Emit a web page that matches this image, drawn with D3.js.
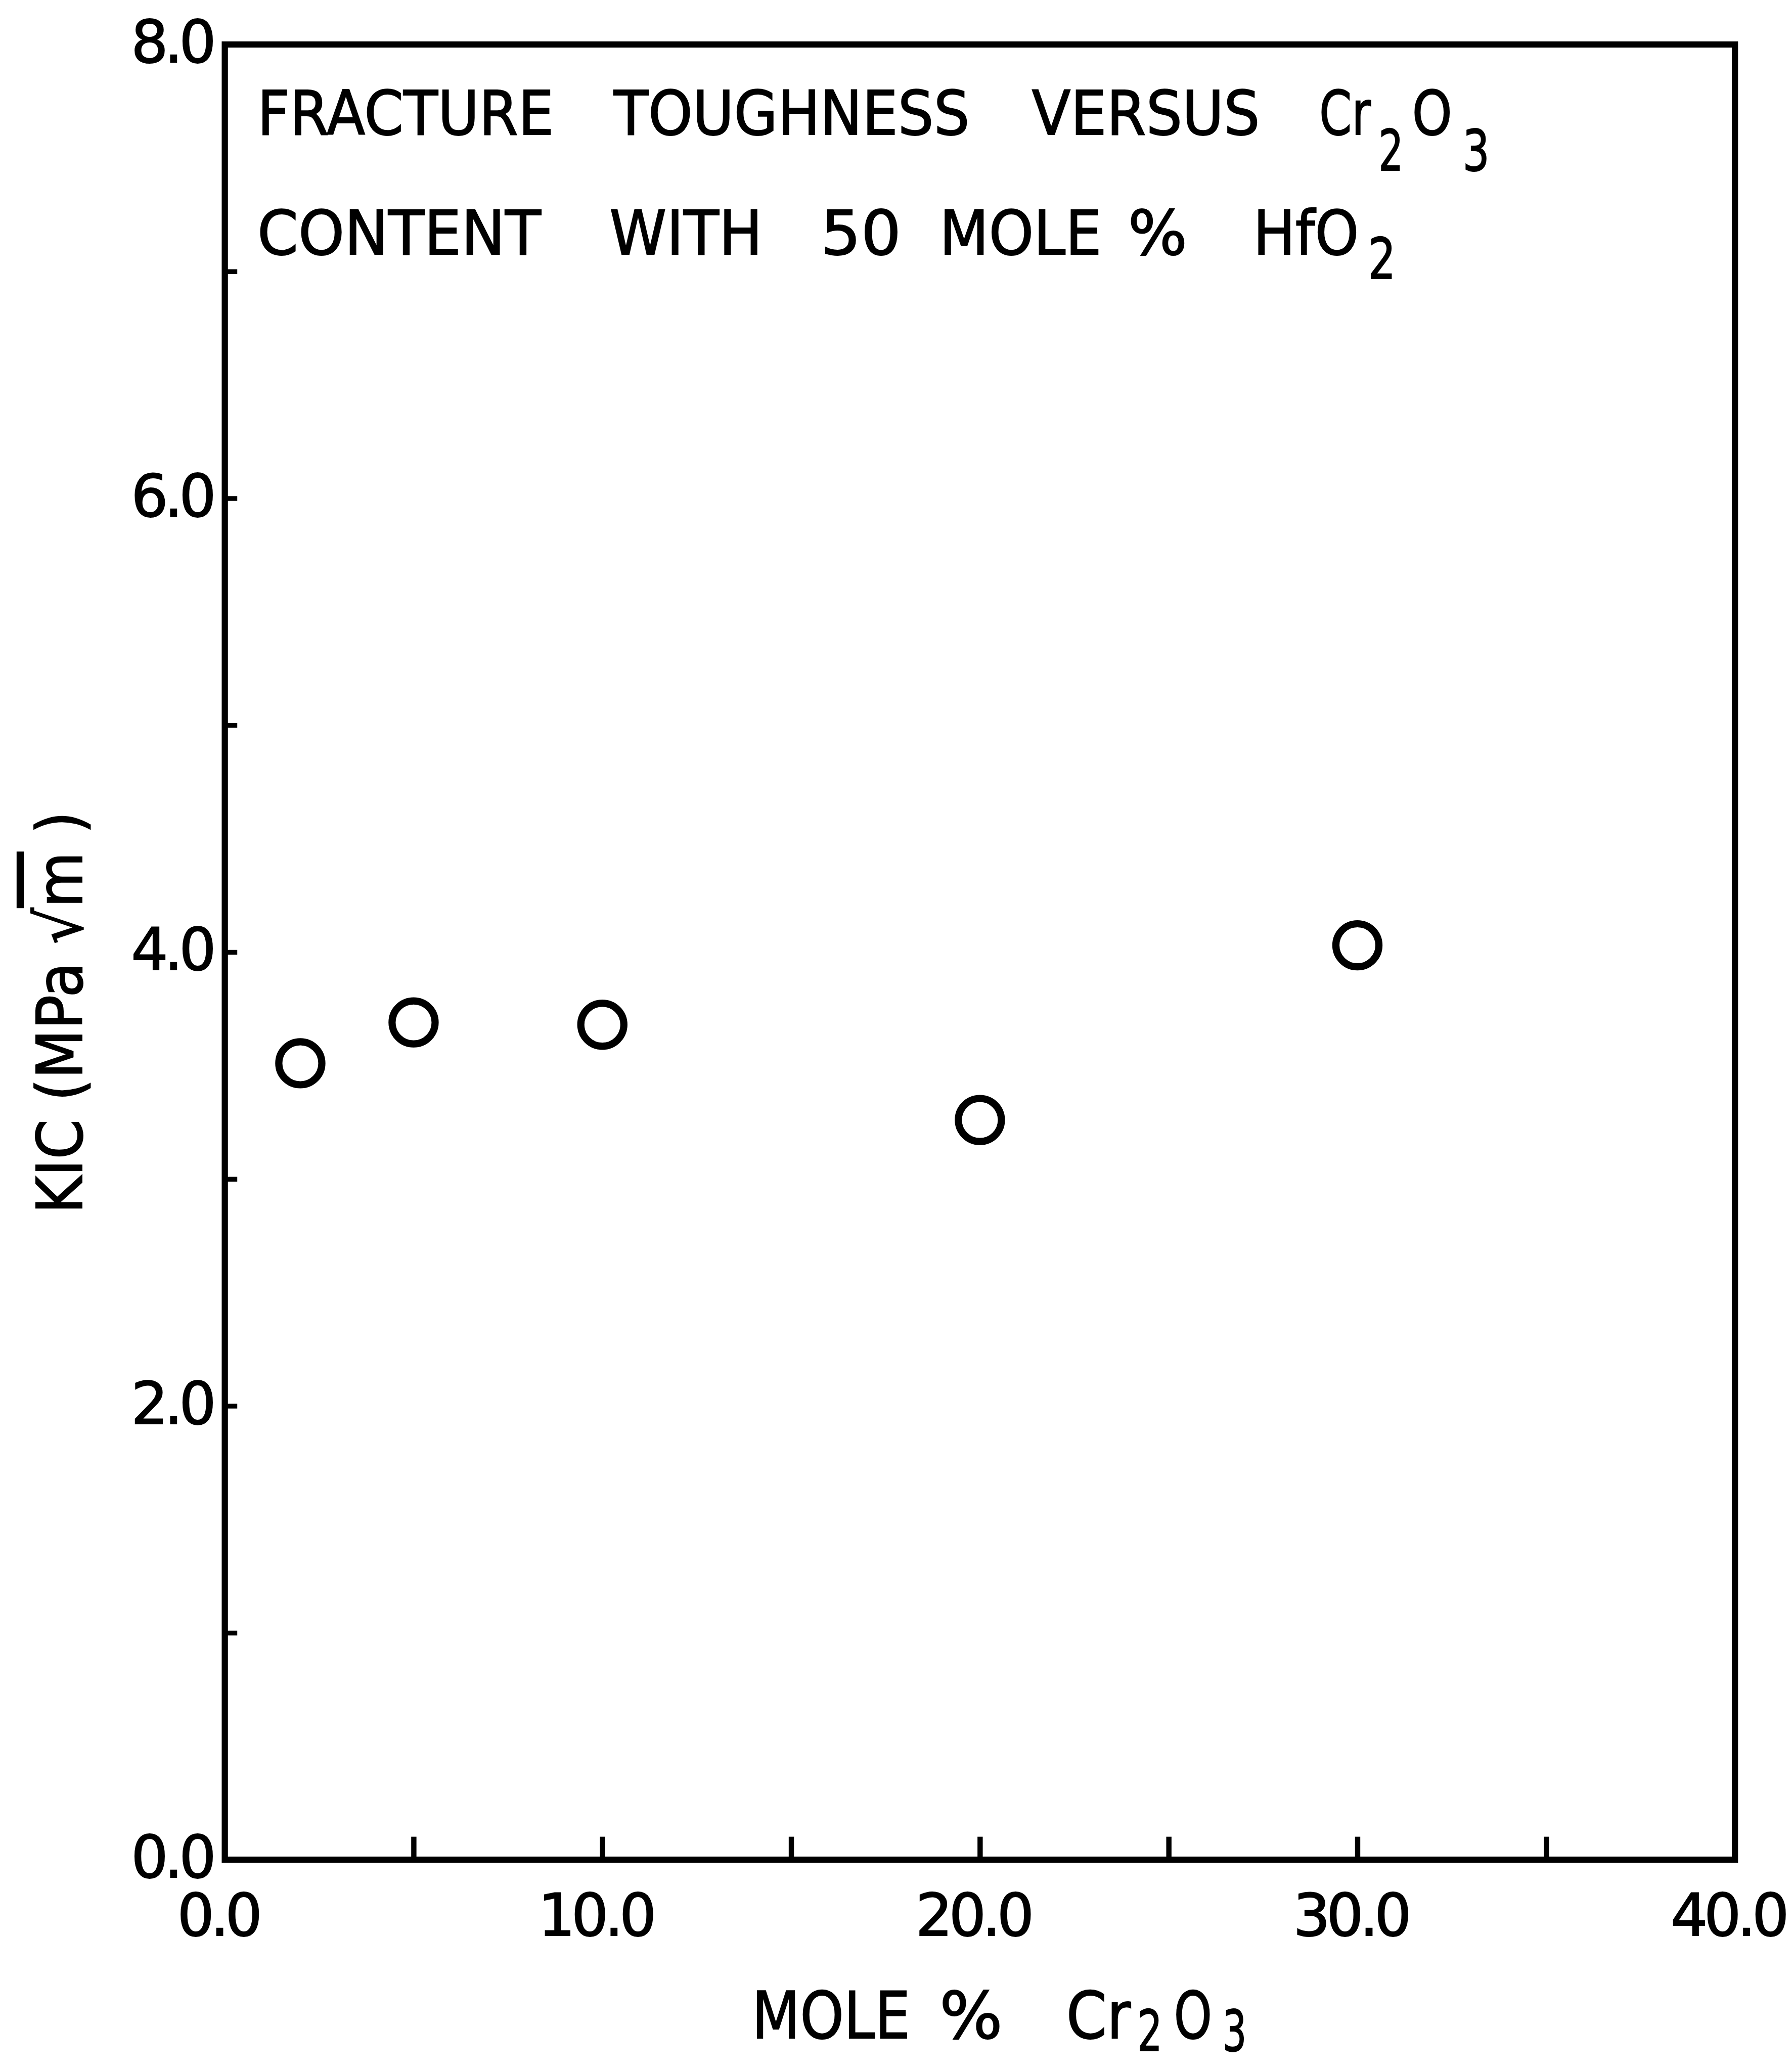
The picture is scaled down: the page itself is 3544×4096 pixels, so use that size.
<!DOCTYPE html>
<html>
<head>
<meta charset="utf-8">
<script src="https://cdn.jsdelivr.net/npm/d3@7"></script>
<style>
body { margin: 0; background: #fff; }
svg text { font-family: "DejaVu Sans", sans-serif; fill: #000; stroke: #000; stroke-width: 2px; }
</style>
</head>
<body>
<svg id="chart" width="3544" height="4096"></svg>
<script>
// values
const molePct = [2, 5, 10, 20, 30];
const kic = [3.51, 3.69, 3.68, 3.26, 4.03];

const xLabelTicks = [0, 10, 20, 30, 40];
const xMarkTicks = [5, 10, 15, 20, 25, 30, 35];
const yLabelTicks = [0, 2, 4, 6, 8];
const yMarkTicks = [1, 2, 3, 4, 5, 6, 7];

// title / label words (lettering is spaced out in the original)
const titleLine1 = ["FRACTURE", "TOUGHNESS", "VERSUS", "Cr", "2", "O", "3"];
const titleLine2 = ["CONTENT", "WITH", "50", "MOLE", "%", "HfO", "2"];
const xTitle = ["MOLE", "%", "Cr", "2", "O", "3"];

// everything laid out in reference pixels, then scaled to the window
const k = 0.946;
const plotL = 470, plotR = 3627, plotT = 93, plotB = 3888;

const svg = d3.select('#chart');
const g = svg.append('g').attr('transform', `scale(${k})`);

const x = d3.scaleLinear().domain([0, 40]).range([plotL, plotR]);
const y = d3.scaleLinear().domain([0, 8]).range([plotB, plotT]);

// frame
g.append('rect')
  .attr('x', plotL).attr('y', plotT)
  .attr('width', plotR - plotL).attr('height', plotB - plotT)
  .attr('fill', 'none').attr('stroke', '#000').attr('stroke-width', 13);

const clean = sel => sel.select('.domain').remove();

// tick marks, pointing in
g.append('g')
  .attr('transform', `translate(0,${plotB})`)
  .call(d3.axisBottom(x).tickValues(xMarkTicks).tickSize(-48).tickFormat(''))
  .call(clean)
  .selectAll('line').attr('stroke', '#000').attr('stroke-width', 11);

g.append('g')
  .attr('transform', `translate(${plotL},0)`)
  .call(d3.axisLeft(y).tickValues(yMarkTicks).tickSize(-26).tickFormat(''))
  .call(clean)
  .selectAll('line').attr('stroke', '#000').attr('stroke-width', 10);

// tick labels
const xLab = g.append('g')
  .attr('transform', `translate(0,${plotB})`)
  .call(d3.axisBottom(x).tickValues(xLabelTicks).tickSize(0).tickPadding(72).tickFormat(d3.format('.1f')))
  .call(clean);
xLab.attr('font-family', null).attr('font-size', 122);
xLab.selectAll('text').attr('dx', -15).attr('letter-spacing', -8);

const yLab = g.append('g')
  .attr('transform', `translate(${plotL},0)`)
  .call(d3.axisLeft(y).tickValues(yLabelTicks).tickSize(0).tickPadding(26).tickFormat(d3.format('.1f')))
  .call(clean);
yLab.attr('font-family', null).attr('font-size', 122);
yLab.selectAll('text').attr('letter-spacing', -8).attr('dy', '0.30em');

// points
g.append('g')
  .selectAll('circle')
  .data(molePct.map((m, i) => ({ m, v: kic[i] })))
  .join('circle')
  .attr('cx', d => x(d.m))
  .attr('cy', d => y(d.v))
  .attr('r', 45)
  .attr('fill', 'none')
  .attr('stroke', '#000')
  .attr('stroke-width', 15);

// word placement helper: [x0, x1, baseline, size]
function words(list, spots) {
  list.forEach((w, i) => {
    const [x0, x1, base, size] = spots[i];
    g.append('text')
      .attr('x', x0).attr('y', base)
      .attr('font-size', size)
      .attr('textLength', x1 - x0)
      .attr('lengthAdjust', 'spacingAndGlyphs')
      .text(w);
  });
}

words(titleLine1, [
  [538, 1158, 281, 128], [1283, 2027, 281, 128], [2157, 2634, 281, 128],
  [2758, 2866, 281, 128], [2882, 2934, 356, 118], [2952, 3036, 281, 128], [3058, 3114, 356, 118]
]);

words(titleLine2, [
  [538, 1131, 532, 128], [1274, 1594, 532, 128], [1716, 1884, 532, 128],
  [1964, 2303, 532, 128], [2358, 2482, 532, 128], [2620, 2841, 532, 128], [2860, 2918, 582, 118]
]);

words(xTitle, [
  [1572, 1903, 4261, 136], [1964, 2096, 4261, 136], [2229, 2364, 4261, 136],
  [2378, 2430, 4288, 118], [2454, 2534, 4261, 136], [2556, 2606, 4288, 118]
]);

// y axis title
const yt = g.append('text')
  .attr('transform', 'translate(171,2117) rotate(-90)')
  .attr('text-anchor', 'middle')
  .attr('font-size', 132)
  .attr('textLength', 841)
  .attr('lengthAdjust', 'spacingAndGlyphs');
yt.append('tspan').text('KIC (MPa √');
yt.append('tspan').style('text-decoration', 'overline').text('m');
yt.append('tspan').text(' )');
</script>
</body>
</html>
